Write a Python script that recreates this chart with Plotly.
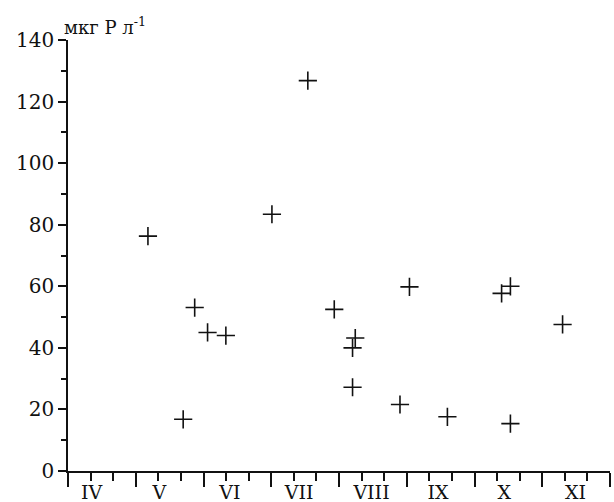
import plotly.graph_objects as go

# Sampling time in fractional months (4 = start of April)
months = [5.18, 5.70, 5.87, 6.06, 6.33, 7.01, 7.54, 7.93, 8.24, 8.20, 8.20,
          8.90, 9.04, 9.60, 10.40, 10.53, 10.53, 11.30]
values = [76.3, 16.8, 53.1, 45.0, 44.0, 83.4, 126.8, 52.5, 43.2, 40.0, 27.2,
          21.6, 59.8, 17.6, 57.7, 60.0, 15.4, 47.6]

month_bounds = [4, 5, 6, 7, 8, 9, 10, 11, 12]
label_pos = [4.35, 5.35, 6.39, 7.41, 8.48, 9.46, 10.44, 11.49]
label_text = ["IV", "V", "VI", "VII", "VIII", "IX", "X", "XI"]
y_ticks = [0, 20, 40, 60, 80, 100, 120, 140]

FONT = "DejaVu Serif"
INK = "#111111"

fig = go.Figure()
fig.add_trace(go.Scatter(
    x=months, y=values, mode="markers",
    marker=dict(symbol="cross-thin", size=13,
                line=dict(width=1.6, color=INK), color=INK),
    showlegend=False, hoverinfo="skip"))
# invisible trace to carry the label axis
fig.add_trace(go.Scatter(x=label_pos, y=[None] * len(label_pos), xaxis="x2",
                         mode="markers", showlegend=False, hoverinfo="skip"))

fig.update_layout(
    width=614, height=502,
    margin=dict(l=68, r=4, t=40, b=31, autoexpand=False),
    paper_bgcolor="white", plot_bgcolor="white",
    font=dict(family=FONT, color=INK),
    xaxis=dict(range=[4, 12], tickmode="array", tickvals=month_bounds,
               showticklabels=False, ticks="outside", ticklen=14,
               tickwidth=1.5, tickcolor=INK, automargin=False,
               minor=dict(dtick=1 / 3, tick0=4, ticks="outside", ticklen=8,
                          tickwidth=1.5, tickcolor=INK, showgrid=False),
               showline=True, linecolor=INK, linewidth=1.5,
               showgrid=False, zeroline=False),
    xaxis2=dict(range=[4, 12], overlaying="x", anchor="y", side="bottom",
                tickmode="array", tickvals=label_pos, ticktext=label_text,
                ticks="outside", ticklen=4, tickcolor="rgba(0,0,0,0)",
                automargin=False,
                tickfont=dict(family=FONT, size=19, color=INK),
                showline=False, showgrid=False, zeroline=False),
    yaxis=dict(range=[0, 140], tickmode="array", tickvals=y_ticks,
               ticks="outside", ticklen=8, tickwidth=1.5, tickcolor=INK,
               automargin=False,
               minor=dict(dtick=10, tick0=0, ticks="outside", ticklen=5,
                          tickwidth=1.5, tickcolor=INK, showgrid=False),
               tickfont=dict(family=FONT, size=20, color=INK),
               showline=True, linecolor=INK, linewidth=1.5,
               showgrid=False, zeroline=False),
)

fig.add_annotation(
    text="мкг P л<sup>-1</sup>", xref="paper", yref="paper",
    x=0, y=1, xanchor="left", yanchor="bottom", xshift=-6, yshift=0,
    showarrow=False, font=dict(family=FONT, size=18, color=INK))

fig.write_html("out.html",
               config={"displayModeBar": False},
               post_script="document.body.style.margin='0';"
                           "document.body.style.overflow='hidden';")
